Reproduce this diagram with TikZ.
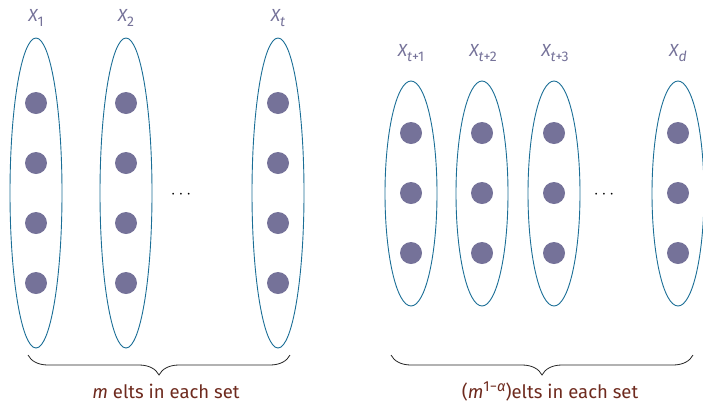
\documentclass[tikz,border=0pt]{standalone}
\usepackage{fontspec}
\setmainfont{Fira Sans}
\usetikzlibrary{decorations.pathreplacing}
\definecolor{setline}{HTML}{1B6E96}
\definecolor{dotc}{HTML}{757299}
\definecolor{capc}{HTML}{6E2A1E}
\newcommand\mysub[1]{\raisebox{-4.5pt}{\fontsize{14}{15}\selectfont #1}}
\newcommand\mysup[1]{\raisebox{7pt}{\fontsize{14.5}{15}\selectfont #1}}
\tikzset{
  elt/.style={circle, fill=dotc, minimum size=22pt, inner sep=0pt},
  setlab/.style={text=dotc, font=\fontsize{17.5}{20}\selectfont\itshape, inner sep=0pt},
  dotsl/.style={font=\fontsize{18}{20}\selectfont, inner sep=0pt},
  bracel/.style={decorate, decoration={brace, amplitude=20pt, mirror}, line width=0.8pt, draw=black!85},
  caption/.style={text=capc, font=\fontsize{18.5}{22}\selectfont, inner sep=0pt}
}
\begin{document}
\begin{tikzpicture}[x=1pt,y=-1pt]
\useasboundingbox (0,0) rectangle (703,405);
% left group
\foreach \n/\x in {a/36, b/126, c/278} {
  \draw[setline, line width=0.9pt] (\x,193) ellipse [x radius=26, y radius=155];
  \foreach \k/\y in {1/103, 2/163, 3/223, 4/283} {
    \node[elt] (\n\k) at (\x,\y) {};
  }
}
\node[setlab] (la) at (36,18) {X\mysub{\upshape 1}};
\node[setlab] (lb) at (126,18) {X\mysub{\upshape 2}};
\node[setlab] (lc) at (278,18) {X\mysub{t}};
\node[dotsl] (dl) at (181,195) {$\cdots$};
% right group
\foreach \n/\x in {p/411, q/482, r/554, s/678} {
  \draw[setline, line width=0.9pt] (\x,193.5) ellipse [x radius=26, y radius=112.5];
  \foreach \k/\y in {1/133, 2/193, 3/253} {
    \node[elt] (\n\k) at (\x,\y) {};
  }
}
\node[setlab] (lp) at (411,53) {X\mysub{t\upshape +1}};
\node[setlab] (lq) at (483,53) {X\mysub{t\upshape +2}};
\node[setlab] (lr) at (555,53) {X\mysub{t\upshape +3}};
\node[setlab] (ls) at (678,53) {X\mysub{d}};
\node[dotsl] (dr) at (604,195) {$\cdots$};
% braces
\coordinate (b1s) at (28,355);
\coordinate (b1e) at (290,355);
\coordinate (b2s) at (391,355);
\coordinate (b2e) at (693,355);
\draw[bracel] (b1s) -- (b1e);
\draw[bracel] (b2s) -- (b2e);
\node[caption] (c1) at (166,391) {\textit{m} elts in each set};
\node[caption] (c2) at (550,391) {(\textit{m}\mysup{1−\textit{α}})elts in each set};
\end{tikzpicture}
\end{document}
